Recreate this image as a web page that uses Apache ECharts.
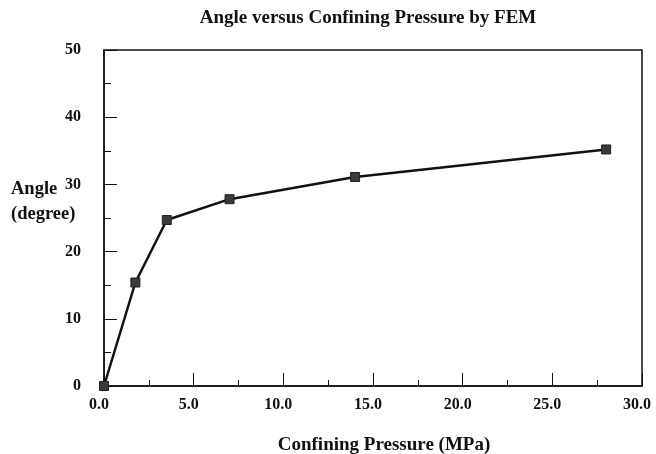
<!DOCTYPE html>
<html>
<head>
<meta charset="utf-8">
<script src="https://cdn.jsdelivr.net/npm/echarts@6/dist/echarts.min.js"></script>
<style>html,body{margin:0;padding:0;background:#fff}#c{width:656px;height:454px}</style>
</head>
<body>
<div id="c"></div>
<script>
const pressure = [0, 1.75, 3.5, 7, 14, 28];
const angle = [0, 15.4, 24.7, 27.8, 31.1, 35.2];
const xTicks = ['0.0','5.0','10.0','15.0','20.0','25.0','30.0'];
const yTicks = ['0','10','20','30','40','50'];
const title = 'Angle versus Confining Pressure by FEM';
const xName = 'Confining Pressure (MPa)';
const yName = 'Angle\n(degree)';

const F = '"Liberation Serif", "DejaVu Serif", serif';
const chart = echarts.init(document.getElementById('c'), null, {renderer: 'canvas'});
chart.setOption({
  animation: false,
  backgroundColor: '#fff',
  title: {text: title, left: 363, top: 4, textAlign: 'center',
    textStyle: {fontFamily: F, fontWeight: 'bold', fontSize: 19, color: '#111'}},
  grid: {left: 104, top: 50, right: 14, bottom: 68, show: true, borderColor: '#111', borderWidth: 1.5,
    backgroundColor: 'transparent', containLabel: false, outerBoundsMode: 'none'},
  xAxis: {
    type: 'value', min: 0, max: 30, interval: 5,
    name: xName, nameLocation: 'middle', nameGap: 50,
    nameTextStyle: {fontFamily: F, fontWeight: 'bold', fontSize: 19, color: '#111', padding: [0, 0, 0, 22]},
    axisLine: {lineStyle: {color: '#111', width: 1.5}},
    axisTick: {inside: true, length: 13, lineStyle: {color: '#111', width: 1}},
    minorTick: {show: true, splitNumber: 2, length: 6, lineStyle: {color: '#111', width: 1}},
    splitLine: {show: false},
    axisLabel: {fontFamily: F, fontWeight: 'bold', fontSize: 16, color: '#111', margin: 11, padding: [0, 10, 0, 0],
      formatter: v => xTicks[Math.round(v / 5)]}
  },
  yAxis: {
    type: 'value', min: 0, max: 50, interval: 10,
    axisLine: {lineStyle: {color: '#111', width: 1.5}},
    axisTick: {inside: true, length: 13, lineStyle: {color: '#111', width: 1}},
    minorTick: {show: true, splitNumber: 2, length: 7, lineStyle: {color: '#111', width: 1}},
    splitLine: {show: false},
    axisLabel: {fontFamily: F, fontWeight: 'bold', fontSize: 16, color: '#111', margin: 23,
      formatter: v => yTicks[Math.round(v / 10)]}
  },
  graphic: [{
    type: 'text', left: 11, top: 177,
    style: {text: yName, fontFamily: F, fontWeight: 'bold', fontSize: 18.5, fill: '#111', textAlign: 'left', lineHeight: 25}
  }],
  series: [{
    type: 'line',
    data: pressure.map((p, i) => [p, angle[i]]),
    symbol: 'rect', symbolSize: 9,
    itemStyle: {color: '#3a3a3a', borderColor: '#222', borderWidth: 1},
    lineStyle: {color: '#111', width: 2.5},
    smooth: false
  }]
});
</script>
</body>
</html>
